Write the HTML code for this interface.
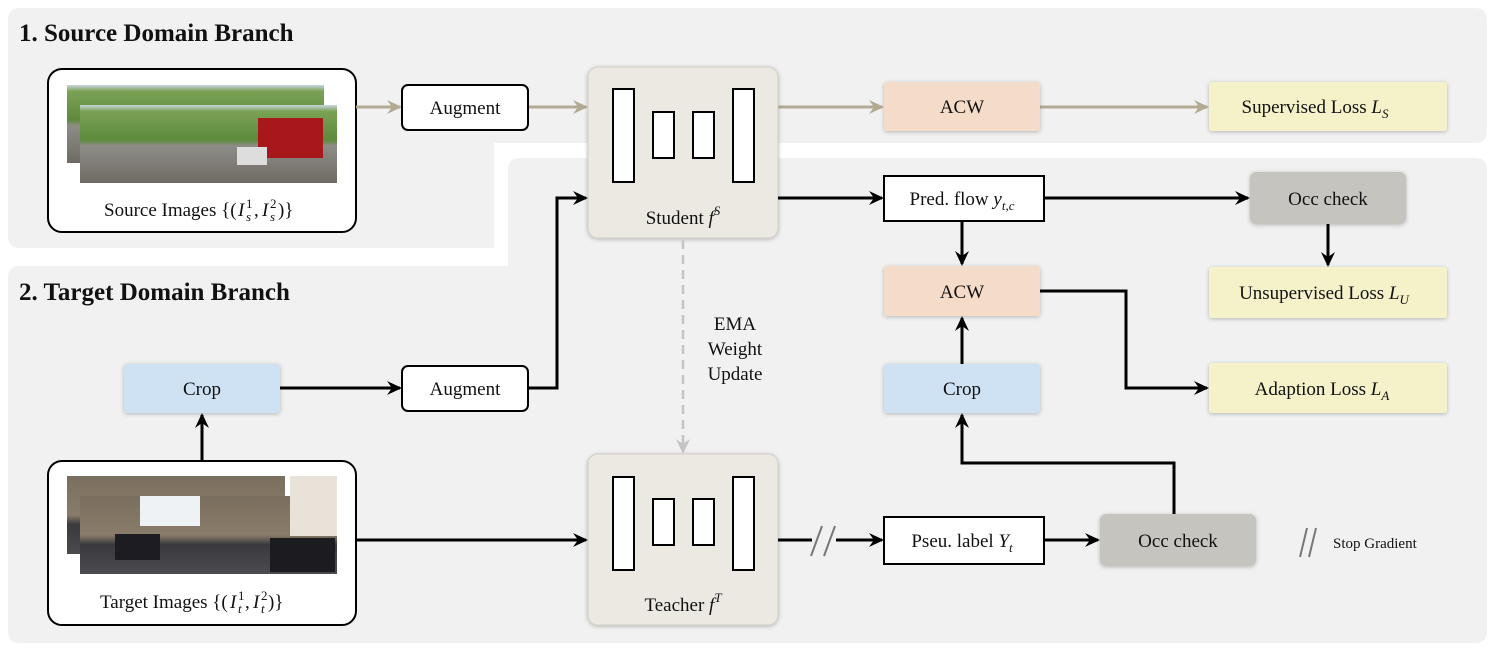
<!DOCTYPE html>
<html><head><meta charset="utf-8"><style>
html,body{margin:0;padding:0;background:#fff;}
svg{display:block;}
text{font-family:"Liberation Serif",serif;font-size:19px;fill:#111;}
.t{font-weight:bold;font-size:25px;}
.m{font-style:italic;}
</style></head><body>
<svg width="1495" height="652" viewBox="0 0 1495 652" xmlns="http://www.w3.org/2000/svg">
<defs>
<marker id="ak" markerWidth="16" markerHeight="16" refX="13" refY="8" orient="auto" markerUnits="userSpaceOnUse"><path d="M0,1 L15,8 L0,15 L5,8 Z" fill="#000"/></marker>
<marker id="ag" markerWidth="16" markerHeight="16" refX="13" refY="8" orient="auto" markerUnits="userSpaceOnUse"><path d="M0,1 L15,8 L0,15 L5,8 Z" fill="#b2aa92"/></marker>
<marker id="ad" markerWidth="16" markerHeight="16" refX="13" refY="8" orient="auto" markerUnits="userSpaceOnUse"><path d="M0,1 L15,8 L0,15 L5,8 Z" fill="#c4c4c4"/></marker>
<linearGradient id="src" x1="0" y1="0" x2="0" y2="1"><stop offset="0" stop-color="#c9d6e0"/><stop offset="0.08" stop-color="#7ba254"/><stop offset="0.45" stop-color="#5d8a3c"/><stop offset="0.52" stop-color="#8d8c86"/><stop offset="1" stop-color="#6f6b64"/></linearGradient>
<linearGradient id="tgt" x1="0" y1="0" x2="0" y2="1"><stop offset="0" stop-color="#7a6e5e"/><stop offset="0.5" stop-color="#8a7c6a"/><stop offset="0.62" stop-color="#3a3a3e"/><stop offset="1" stop-color="#4a4a4f"/></linearGradient>
<filter id="sh" x="-10%" y="-10%" width="120%" height="120%"><feDropShadow dx="0" dy="1" stdDeviation="2" flood-opacity="0.25"/></filter>
</defs>
<path d="M20,8 H1475 Q1487,8 1487,20 V131 Q1487,143 1475,143 H494 V248 H20 Q8,248 8,236 V20 Q8,8 20,8 Z" fill="#f1f1f1"/>
<path d="M520,158 H1475 Q1487,158 1487,170 V631 Q1487,643 1475,643 H20 Q8,643 8,631 V278 Q8,266 20,266 H508 V170 Q508,158 520,158 Z" fill="#f1f1f1"/>
<text x="19" y="41" class="t">1. Source Domain Branch</text>
<text x="19" y="300" class="t">2. Target Domain Branch</text>

<rect x="48" y="69" width="308" height="163" rx="14" fill="#fff" stroke="#000" stroke-width="2"/>
<rect x="67" y="85" width="257" height="78" fill="url(#src)"/>
<rect x="80" y="105" width="257" height="78" fill="url(#src)"/>
<rect x="258" y="118" width="65" height="40" fill="#a8181a"/>
<rect x="237" y="147" width="30" height="18" fill="#ddd"/>
<text x="104" y="216">Source Images {(</text>
<text x="238" y="216" class="m">I</text><text x="246" y="208" style="font-size:13px">1</text><text x="246" y="221" class="m" style="font-size:13px">s</text>
<text x="254" y="216">,</text>
<text x="262" y="216" class="m">I</text><text x="270" y="208" style="font-size:13px">2</text><text x="270" y="221" class="m" style="font-size:13px">s</text>
<text x="278" y="216">)}</text>

<rect x="48" y="461" width="308" height="164" rx="14" fill="#fff" stroke="#000" stroke-width="2"/>
<rect x="67" y="476" width="218" height="78" fill="url(#tgt)"/>
<rect x="80" y="496" width="257" height="78" fill="url(#tgt)"/>
<rect x="140" y="496" width="60" height="30" fill="#eef2f5"/>
<rect x="290" y="476" width="47" height="60" fill="#e8e2d8"/>
<rect x="270" y="538" width="65" height="34" fill="#1c1c20"/>
<rect x="115" y="534" width="45" height="26" fill="#1c1c22"/>
<text x="100" y="608">Target Images {(</text>
<text x="230" y="608" class="m">I</text><text x="238" y="600" style="font-size:13px">1</text><text x="238" y="613" class="m" style="font-size:13px">t</text>
<text x="245" y="608">,</text>
<text x="253" y="608" class="m">I</text><text x="261" y="600" style="font-size:13px">2</text><text x="261" y="613" class="m" style="font-size:13px">t</text>
<text x="268" y="608">)}</text>

<g stroke="#b2aa92" stroke-width="3" fill="none" marker-end="url(#ag)">
<line x1="356" y1="107" x2="400" y2="107"/>
<line x1="528" y1="107" x2="586" y2="107"/>
<line x1="778" y1="107" x2="882" y2="107"/>
<line x1="1040" y1="107" x2="1207" y2="107"/>
</g>

<rect x="402" y="85" width="126" height="45" rx="6" fill="#fff" stroke="#000" stroke-width="2"/>
<text x="465" y="114" text-anchor="middle">Augment</text>

<rect x="588" y="67" width="190" height="171" rx="10" fill="#ebe9e2" stroke="#d2d0c8" filter="url(#sh)"/>
<g fill="#fff" stroke="#000" stroke-width="2">
<rect x="613" y="89" width="21" height="93"/><rect x="653" y="112" width="21" height="46"/><rect x="693" y="112" width="21" height="46"/><rect x="733" y="89" width="21" height="93"/>
</g>
<text x="683" y="224" text-anchor="middle">Student <tspan class="m">f</tspan><tspan font-size="13" dy="-9" class="m">S</tspan></text>

<rect x="588" y="454" width="190" height="171" rx="10" fill="#ebe9e2" stroke="#d2d0c8" filter="url(#sh)"/>
<g fill="#fff" stroke="#000" stroke-width="2">
<rect x="613" y="477" width="21" height="93"/><rect x="653" y="499" width="21" height="46"/><rect x="693" y="499" width="21" height="46"/><rect x="733" y="477" width="21" height="93"/>
</g>
<text x="683" y="611" text-anchor="middle">Teacher <tspan class="m">f</tspan><tspan font-size="13" dy="-9" class="m">T</tspan></text>

<line x1="683" y1="240" x2="683" y2="452" stroke="#c4c4c4" stroke-width="2.5" stroke-dasharray="9,6" marker-end="url(#ad)"/>
<text x="735" y="330" text-anchor="middle">EMA</text>
<text x="735" y="355" text-anchor="middle">Weight</text>
<text x="735" y="380" text-anchor="middle">Update</text>

<rect x="884" y="82" width="156" height="49" rx="3" fill="#f5dcc8" filter="url(#sh)"/>
<text x="962" y="113" text-anchor="middle">ACW</text>
<rect x="1209" y="82" width="238" height="49" rx="3" fill="#f5f1c9" filter="url(#sh)"/>
<text x="1315" y="113" text-anchor="middle">Supervised Loss <tspan class="m">L</tspan><tspan font-size="13" dy="5" class="m">S</tspan></text>

<rect x="884" y="176" width="160" height="45" fill="#fff" stroke="#000" stroke-width="2"/>
<text x="962" y="205" text-anchor="middle">Pred. flow <tspan class="m">y</tspan><tspan font-size="13" dy="5" class="m">t,c</tspan></text>
<rect x="1250" y="172" width="156" height="52" rx="6" fill="#c5c4bf" filter="url(#sh)"/>
<text x="1328" y="205" text-anchor="middle">Occ check</text>

<rect x="884" y="266" width="156" height="50" rx="3" fill="#f5dcc8" filter="url(#sh)"/>
<text x="962" y="298" text-anchor="middle">ACW</text>
<rect x="1209" y="267" width="238" height="51" rx="3" fill="#f5f1c9" filter="url(#sh)"/>
<text x="1324" y="299" text-anchor="middle">Unsupervised Loss <tspan class="m">L</tspan><tspan font-size="13" dy="5" class="m">U</tspan></text>
<rect x="1209" y="363" width="238" height="50" rx="3" fill="#f5f1c9" filter="url(#sh)"/>
<text x="1322" y="395" text-anchor="middle">Adaption Loss <tspan class="m">L</tspan><tspan font-size="13" dy="5" class="m">A</tspan></text>

<rect x="884" y="364" width="156" height="49" rx="3" fill="#cfe2f4" filter="url(#sh)"/>
<text x="962" y="395" text-anchor="middle">Crop</text>
<rect x="124" y="364" width="156" height="49" rx="3" fill="#cfe2f4" filter="url(#sh)"/>
<text x="202" y="395" text-anchor="middle">Crop</text>
<rect x="402" y="366" width="126" height="45" rx="6" fill="#fff" stroke="#000" stroke-width="2"/>
<text x="465" y="395" text-anchor="middle">Augment</text>

<rect x="884" y="517" width="160" height="47" fill="#fff" stroke="#000" stroke-width="2"/>
<text x="962" y="547" text-anchor="middle">Pseu. label <tspan class="m">Y</tspan><tspan font-size="13" dy="5" class="m">t</tspan></text>
<rect x="1100" y="514" width="156" height="52" rx="6" fill="#c5c4bf" filter="url(#sh)"/>
<text x="1178" y="547" text-anchor="middle">Occ check</text>

<g stroke="#000" stroke-width="3" fill="none" marker-end="url(#ak)">
<line x1="778" y1="198" x2="882" y2="198"/>
<line x1="1044" y1="198" x2="1248" y2="198"/>
<line x1="962" y1="221" x2="962" y2="264"/>
<line x1="1328" y1="224" x2="1328" y2="265"/>
<polyline points="1040,291 1126,291 1126,388 1207,388"/>
<line x1="962" y1="364" x2="962" y2="318"/>
<polyline points="1174,514 1174,463 962,463 962,415"/>
<line x1="1044" y1="540" x2="1098" y2="540"/>
<line x1="778" y1="540" x2="882" y2="540"/>
<line x1="356" y1="540" x2="586" y2="540"/>
<line x1="202" y1="461" x2="202" y2="415"/>
<line x1="280" y1="388" x2="400" y2="388"/>
<polyline points="528,388 557,388 557,198 586,198"/>
</g>
<rect x="812" y="525" width="24" height="30" fill="#f1f1f1"/>
<line x1="811" y1="556" x2="822" y2="526" stroke="#777" stroke-width="2"/>
<line x1="824" y1="556" x2="835" y2="526" stroke="#777" stroke-width="2"/>
<line x1="1300" y1="557" x2="1307" y2="528" stroke="#777" stroke-width="2"/>
<line x1="1309" y1="557" x2="1316" y2="528" stroke="#777" stroke-width="2"/>
<text x="1333" y="548" style="font-size:15px">Stop Gradient</text>
</svg>
</body></html>
